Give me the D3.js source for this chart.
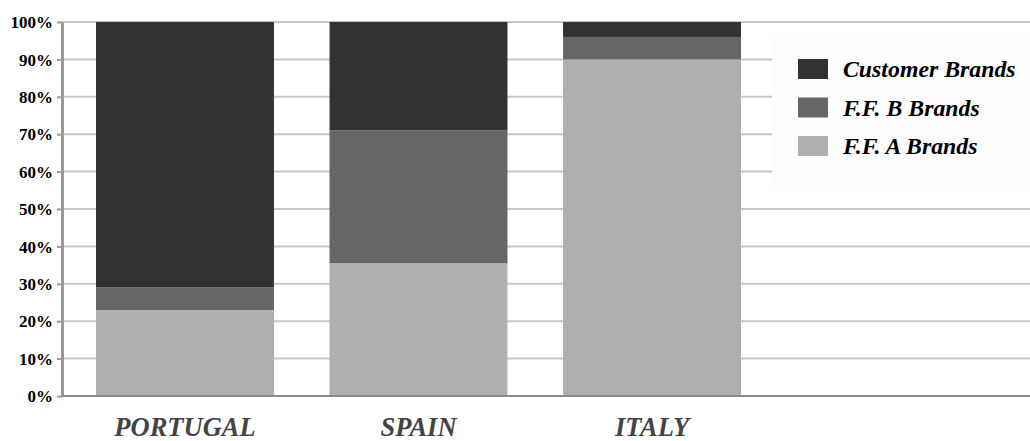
<!DOCTYPE html>
<html>
<head>
<meta charset="utf-8">
<script src="https://cdn.jsdelivr.net/npm/d3@7"></script>
<style>
  html, body { margin: 0; padding: 0; background: #fff; }
  svg { display: block; }
</style>
</head>
<body>
<div class="container"></div>
<script>
// chart values (percent of each country)
const countries = ['PORTUGAL', 'SPAIN', 'ITALY'];
const ffaBrands = [23, 35.5, 90];
const ffbBrands = [6, 35.5, 6];
const customerBrands = [71, 29, 4];
const seriesNames = ['F.F. A Brands', 'F.F. B Brands', 'Customer Brands'];
const seriesColors = ['#afafaf', '#666664', '#323230'];
const yTicks = [0, 10, 20, 30, 40, 50, 60, 70, 80, 90, 100];

const FONT = '"Liberation Serif"';
const width = 1030, height = 441;
const margin = { top: 22, left: 62, bottom: 45 };
const plotBottom = height - margin.bottom;

const svg = d3.select('.container').append('svg')
    .attr('width', width)
    .attr('height', height);

const x = d3.scaleBand()
    .domain(countries)
    .range([margin.left, 775])
    .paddingInner(0.238)
    .paddingOuter(0.1456);

const y = d3.scaleLinear()
    .domain([0, 100])
    .range([plotBottom, margin.top]);

// gridlines
svg.append('g')
    .selectAll('line')
    .data(yTicks.filter(d => d > 0))
    .join('line')
    .attr('x1', margin.left)
    .attr('x2', width)
    .attr('y1', d => y(d))
    .attr('y2', d => y(d))
    .attr('stroke', '#c8c8c8')
    .attr('stroke-width', 2);

// stacked bars
const rows = countries.map((c, i) => ({
    country: c,
    a: ffaBrands[i],
    b: ffbBrands[i],
    c: customerBrands[i]
}));
const stack = d3.stack().keys(['a', 'b', 'c'])(rows);

svg.append('g')
    .selectAll('g')
    .data(stack)
    .join('g')
    .attr('fill', (d, i) => seriesColors[i])
    .selectAll('rect')
    .data(d => d)
    .join('rect')
    .attr('x', d => x(d.data.country))
    .attr('width', x.bandwidth())
    .attr('y', d => y(d[1]))
    .attr('height', d => y(d[0]) - y(d[1]));

// y axis
const yAxis = d3.axisLeft(y)
    .tickValues(yTicks)
    .tickFormat(d => d + '%')
    .tickSizeInner(5)
    .tickSizeOuter(0)
    .tickPadding(4);

const yAxisGroup = svg.append('g')
    .attr('transform', `translate(${margin.left},0)`)
    .call(yAxis)
    .attr('font-family', FONT);
yAxisGroup.select('.domain').attr('stroke', '#999').attr('stroke-width', 3);
yAxisGroup.selectAll('.tick line').attr('stroke', '#999').attr('stroke-width', 2);
yAxisGroup.selectAll('.tick text')
    .attr('fill', '#000')
    .attr('dy', '0.34em')
    .attr('font-family', FONT)
    .attr('font-weight', 'bold')
    .attr('font-size', 17);

// x axis
const xAxis = d3.axisBottom(x).tickSize(0);
const xAxisGroup = svg.append('g')
    .attr('transform', `translate(0,${plotBottom})`)
    .call(xAxis)
    .attr('font-family', FONT);
xAxisGroup.select('.domain')
    .attr('d', `M${margin.left},0H${width}`)
    .attr('stroke', '#8a8a8a')
    .attr('stroke-width', 2);
xAxisGroup.selectAll('.tick text')
    .attr('y', 40)
    .attr('dy', 0)
    .attr('fill', '#444')
    .attr('font-family', FONT)
    .attr('font-weight', 'bold')
    .attr('font-style', 'italic')
    .attr('font-size', 26.5);

// legend
const legend = svg.append('g').attr('transform', 'translate(772,33)');
legend.append('rect')
    .attr('width', width - 772)
    .attr('height', 155)
    .attr('fill', '#fdfdfd');

const legendOrder = [2, 1, 0];
const item = legend.selectAll('g.item')
    .data(legendOrder)
    .join('g')
    .attr('class', 'item')
    .attr('transform', (d, i) => `translate(26,${26 + i * 38.5})`);
item.append('rect')
    .attr('width', 30)
    .attr('height', 20)
    .attr('fill', d => seriesColors[d]);
item.append('text')
    .attr('x', 45)
    .attr('y', 18)
    .text(d => seriesNames[d])
    .attr('font-family', FONT)
    .attr('font-weight', 'bold')
    .attr('font-style', 'italic')
    .attr('font-size', 23.8)
    .attr('fill', '#000');
</script>
</body>
</html>
